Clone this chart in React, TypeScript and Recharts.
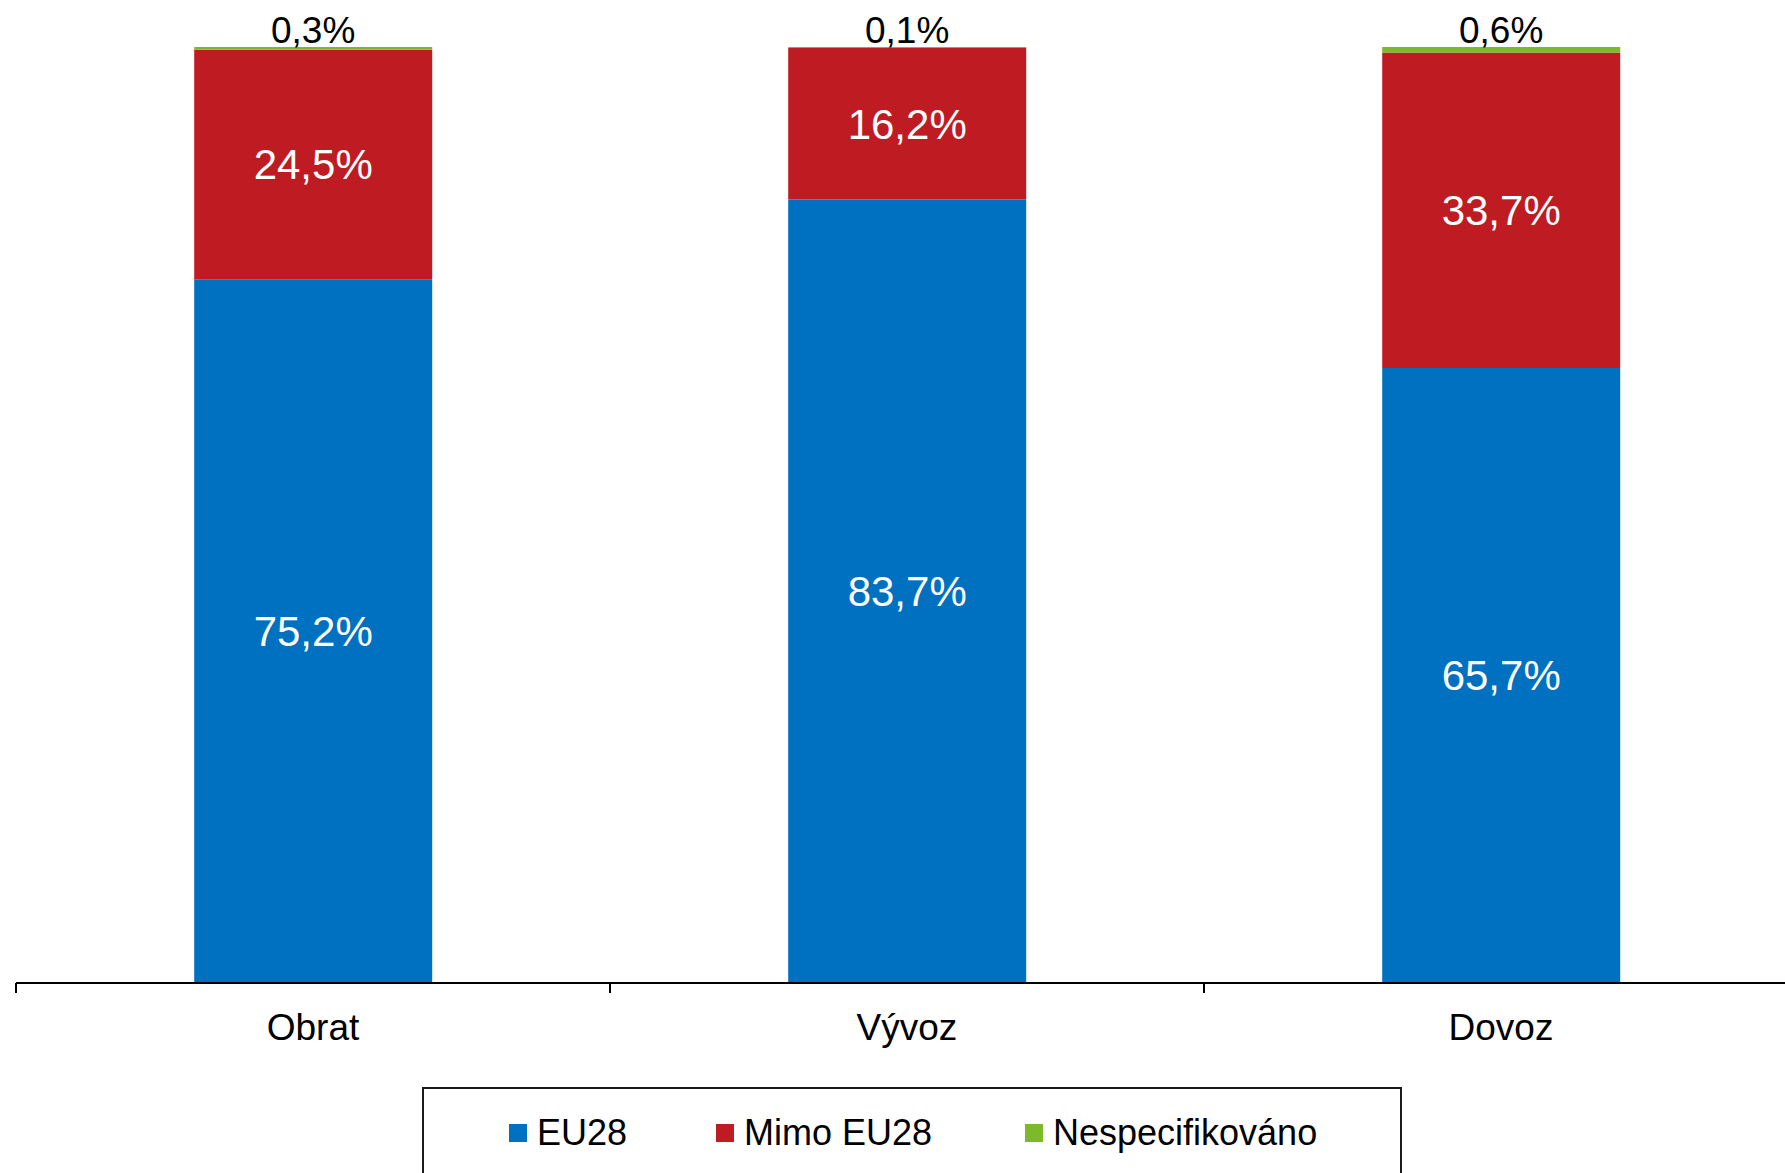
import { BarChart, Bar, XAxis, YAxis, LabelList } from 'recharts';

const categories = ['Obrat', 'Vývoz', 'Dovoz'];
const eu28 = [75.2, 83.7, 65.7];
const mimoEu28 = [24.5, 16.2, 33.7];
const nespecifikovano = [0.3, 0.1, 0.6];

const seriesNames = ['EU28', 'Mimo EU28', 'Nespecifikováno'];
const seriesColors = ['#0070c0', '#be1b22', '#7cba2a'];

const data = categories.map((name, i) => ({
  name,
  eu28: eu28[i],
  mimo: mimoEu28[i],
  nesp: nespecifikovano[i],
}));

const W = 1800;
const H = 1173;
const margin = { top: 47, right: 2, left: 16, bottom: 110 };
const step = (W - margin.left - margin.right) / categories.length;
const font = '"Liberation Sans", Arial, sans-serif';

const fmt = (v: any) => `${Number(v).toFixed(1).replace('.', ',')}%`;

const CategoryTick = ({ x, y, payload }: any) => (
  <g>
    <line x1={x - step / 2} x2={x - step / 2} y1={y - 10} y2={y} stroke="#000" strokeWidth={2} />
    <text x={x} y={y + 34} textAnchor="middle" dominantBaseline="central" fontSize={37} fontFamily={font} fill="#000">
      {payload.value}
    </text>
  </g>
);

function LegendBox() {
  const offsets = [85, 292, 601];
  return (
    <div
      style={{
        position: 'absolute',
        left: 422,
        top: 1087,
        width: 980,
        height: 120,
        border: '2px solid #1a1a1a',
        boxSizing: 'border-box',
        fontFamily: font,
        fontSize: 36,
        color: '#000',
      }}
    >
      {seriesNames.map((name, i) => (
        <div
          key={name}
          style={{ position: 'absolute', left: offsets[i], top: 23, display: 'flex', alignItems: 'center', whiteSpace: 'nowrap' }}
        >
          <span style={{ display: 'inline-block', width: 18, height: 18, background: seriesColors[i], marginRight: 10 }} />
          <span>{name}</span>
        </div>
      ))}
    </div>
  );
}

export default function App() {
  return (
    <div style={{ position: 'absolute', left: 0, top: 0, width: 1785, height: H, overflow: 'hidden', background: '#fff' }}>
      <BarChart width={W} height={H} data={data} margin={margin} barCategoryGap="30%">
        <YAxis hide domain={[0, 100]} />
        <XAxis
          dataKey="name"
          axisLine={{ stroke: '#000', strokeWidth: 2 }}
          tickLine={false}
          tickSize={10}
          tickMargin={0}
          height={80}
          interval={0}
          tick={<CategoryTick />}
        />
        <Bar dataKey="eu28" stackId="a" fill={seriesColors[0]} isAnimationActive={false}>
          <LabelList dataKey="eu28" position="center" fill="#fff" fontSize={42} fontFamily={font} formatter={fmt} />
        </Bar>
        <Bar dataKey="mimo" stackId="a" fill={seriesColors[1]} isAnimationActive={false}>
          <LabelList dataKey="mimo" position="center" fill="#fff" fontSize={42} fontFamily={font} formatter={fmt} />
        </Bar>
        <Bar dataKey="nesp" stackId="a" fill={seriesColors[2]} isAnimationActive={false}>
          <LabelList dataKey="nesp" position="top" offset={4} fill="#000" fontSize={37} fontFamily={font} formatter={fmt} />
        </Bar>
      </BarChart>
      <LegendBox />
    </div>
  );
}
